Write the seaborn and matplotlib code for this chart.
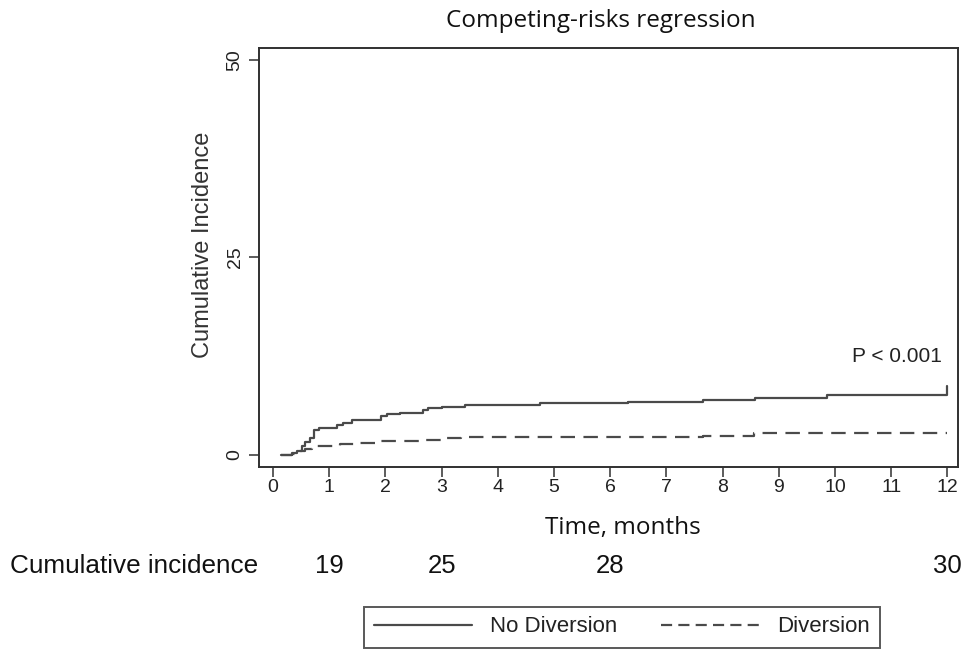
import matplotlib
matplotlib.use("Agg")
import matplotlib.pyplot as plt
import matplotlib.transforms as mtransforms
import seaborn as sns
import pandas as pd

# ---- data ----
series_labels = ["No Diversion", "Diversion"]

nd_time = [0.15, 0.33, 0.42, 0.51, 0.57, 0.66, 0.72, 0.81, 1.13, 1.25, 1.40,
           1.93, 2.02, 2.26, 2.66, 2.76, 3.00, 3.42, 4.75, 6.32, 7.66, 8.58,
           9.85, 12.0, 12.0]
nd_value = [0.0, 0.2, 0.5, 1.1, 1.65, 2.2, 3.1, 3.4, 3.75, 4.1, 4.4,
            4.9, 5.15, 5.3, 5.65, 5.9, 6.1, 6.3, 6.6, 6.75, 6.95, 7.25,
            7.6, 7.6, 8.7]

dv_time = [0.15, 0.33, 0.45, 0.57, 0.69, 0.78, 1.20, 1.50, 1.93, 2.62, 3.04,
           3.34, 7.66, 8.56, 12.0]
dv_value = [0.0, 0.17, 0.5, 0.7, 0.93, 1.2, 1.43, 1.56, 1.77, 1.94, 2.1,
            2.25, 2.45, 2.8, 2.8]

x_ticks = list(range(0, 13))
y_ticks = [0, 25, 50]

risk_label = "Cumulative incidence"
risk_times = [1, 3, 6, 12]
risk_values = [19, 25, 28, 30]

title_text = "Competing-risks regression"
x_label = "Time, months"
y_label = "Cumulative Incidence"
p_text = "P < 0.001"

# ---- frame ----
df = pd.concat([
    pd.DataFrame({"time": nd_time, "ci": nd_value, "group": series_labels[0]}),
    pd.DataFrame({"time": dv_time, "ci": dv_value, "group": series_labels[1]}),
], ignore_index=True)

sns.set_style("ticks")
plt.rcParams["font.family"] = ["Liberation Sans", "DejaVu Sans"]

line_color = "#4a4a4a"
spine_color = "#303030"

fig = plt.figure(figsize=(9.74, 6.55), dpi=100)
ax = fig.add_axes([259 / 974, 1 - 467 / 655, 699 / 974, 419 / 655])

sns.lineplot(
    data=df, x="time", y="ci", hue="group", style="group",
    hue_order=series_labels, style_order=series_labels,
    palette={series_labels[0]: line_color, series_labels[1]: line_color},
    dashes={series_labels[0]: "", series_labels[1]: (6.5, 3.8)},
    drawstyle="steps-post", estimator=None, sort=False,
    linewidth=1.6, ax=ax,
)

handles, labels = ax.get_legend_handles_labels()
if ax.get_legend() is not None:
    ax.get_legend().remove()

ax.set_xlim(-0.25, 12.19)
ax.set_ylim(-1.52, 51.5)
ax.set_xticks(x_ticks)
ax.set_yticks(y_ticks)
ax.set_yticklabels([str(v) for v in y_ticks], rotation=90, va="center")
ax.tick_params(axis="both", labelsize=14, length=7, width=1.1,
               color=spine_color, labelcolor="#222222", direction="out")
ax.tick_params(axis="x", pad=2)
ax.tick_params(axis="y", pad=4)
for s in ax.spines.values():
    s.set_visible(True)
    s.set_color(spine_color)
    s.set_linewidth(1.4)

ax.set_xlabel(x_label, fontsize=17.5, family=["Open Sans", "DejaVu Sans"],
              color="#111111", va="center")
ax.xaxis.set_label_coords((623 - 259) / 699, -(528 - 467) / 419)
ax.set_ylabel(y_label, fontsize=17, color="#333333", va="center")
ax.yaxis.set_label_coords((203 - 259) / 699, (467 - 245) / 419)

ax.text(11.9, 12.4, p_text, ha="right", va="center", fontsize=15, color="#222222")

fig.text(601 / 974, 1 - 21 / 655, title_text, ha="center", va="center",
         fontsize=17.5, family=["Open Sans", "DejaVu Sans"], color="#111111")

# risk table row
trans = mtransforms.blended_transform_factory(ax.transData, fig.transFigure)
ry = 1 - 566 / 655
fig.text(10 / 974, ry, risk_label, ha="left", va="center", fontsize=18.8, color="#111111")
for t, v in zip(risk_times, risk_values):
    ax.text(t, ry, str(v), transform=trans, ha="center", va="center",
            fontsize=18.5, color="#111111", clip_on=False)

leg = fig.legend(handles, labels, loc="center",
                 bbox_to_anchor=(622 / 974, 1 - 627 / 655), ncol=2,
                 frameon=True, fancybox=False, fontsize=16,
                 handlelength=4.4, handletextpad=0.8, columnspacing=2.0,
                 borderpad=0.45)
leg.get_frame().set_edgecolor(spine_color)
leg.get_frame().set_linewidth(1.4)
for t in leg.get_texts():
    t.set_color("#222222")
for h in leg.get_lines():
    if h.get_label() == series_labels[1] or h.get_linestyle() not in ("-", "solid"):
        h.set_dashes((5.0, 2.8))

fig.savefig("out.png", dpi=100)
